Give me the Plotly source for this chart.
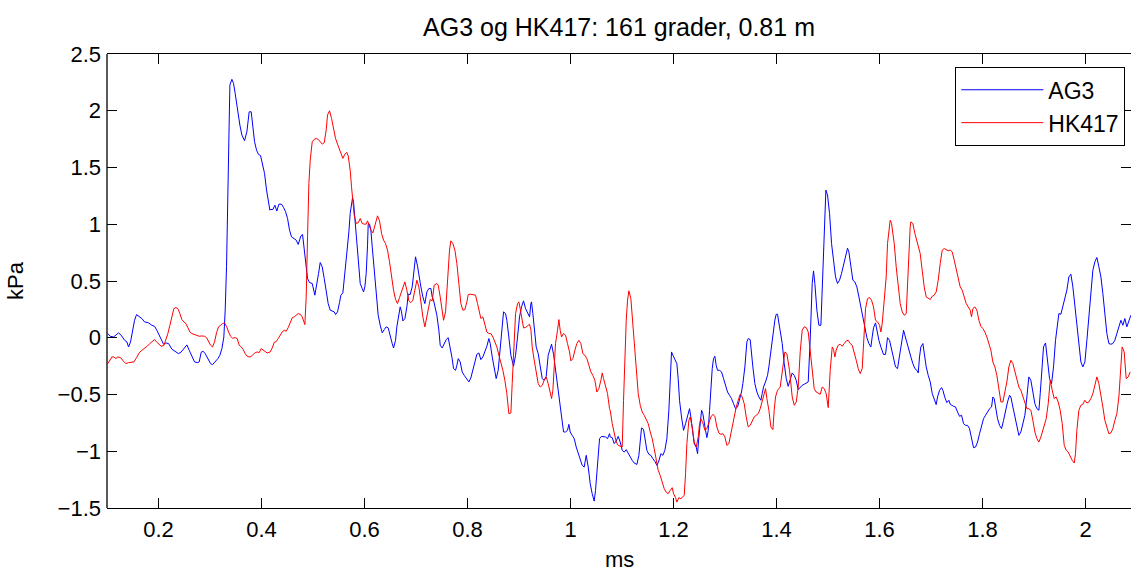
import plotly.graph_objects as go

# ---- data (time in ms, pressure in kPa) ----
ag3_samples = [
    (0.1017,0.037),(0.1062,0.013),(0.1127,0.007),(0.1172,0.022),(0.1224,0.043),(0.1276,0.022),(0.1341,-0.022),(0.1386,-0.037),
    (0.1418,-0.081),(0.1457,-0.037),(0.1496,0.066),(0.1535,0.154),(0.1574,0.204),(0.1612,0.190),(0.1677,0.169),(0.1729,0.140),
    (0.1807,0.131),(0.1871,0.110),(0.1923,0.101),(0.1968,0.066),(0.2033,0.007),(0.2098,-0.057),(0.2143,-0.046),(0.2195,-0.051),
    (0.2260,-0.101),(0.2324,-0.119),(0.2389,-0.140),(0.2441,-0.125),(0.2493,-0.096),(0.2551,-0.063),(0.2596,-0.110),(0.2648,-0.169),
    (0.2700,-0.213),(0.2752,-0.219),(0.2790,-0.213),(0.2829,-0.128),(0.2868,-0.119),(0.2907,-0.140),(0.2959,-0.184),(0.3011,-0.228),
    (0.3049,-0.237),(0.3101,-0.213),(0.3153,-0.184),(0.3192,-0.154),(0.3231,-0.096),(0.3269,0.007),(0.3295,0.243),(0.3321,0.625),
    (0.3347,1.213),(0.3366,1.800),(0.3386,2.227),(0.3425,2.277),(0.3457,2.241),(0.3489,2.153),(0.3541,1.977),(0.3580,1.874),
    (0.3619,1.786),(0.3671,1.736),(0.3716,1.815),(0.3761,1.991),(0.3800,1.991),(0.3826,1.889),(0.3865,1.727),(0.3904,1.653),
    (0.3942,1.615),(0.3981,1.606),(0.4020,1.536),(0.4059,1.448),(0.4098,1.301),(0.4137,1.168),(0.4163,1.124),
    (0.4169,1.130),(0.4221,1.130),(0.4260,1.168),(0.4298,1.116),(0.4337,1.177),(0.4389,1.177),(0.4428,1.148),(0.4467,1.110),
    (0.4506,1.051),(0.4544,0.948),(0.4583,0.889),(0.4635,0.869),(0.4674,0.860),(0.4713,0.822),(0.4739,0.869),(0.4765,0.898),
    (0.4797,0.910),(0.4816,0.830),(0.4842,0.713),(0.4868,0.610),(0.4894,0.522),(0.4933,0.486),(0.4985,0.478),(0.5036,0.375),
    (0.5075,0.463),(0.5108,0.566),(0.5140,0.663),(0.5179,0.625),(0.5218,0.522),(0.5256,0.404),(0.5295,0.301),(0.5334,0.243),
    (0.5373,0.237),(0.5412,0.228),(0.5438,0.204),(0.5476,0.228),(0.5515,0.310),(0.5541,0.375),(0.5580,0.395),(0.5606,0.513),
    (0.5632,0.654),(0.5671,0.786),(0.5697,0.933),(0.5722,1.095),(0.5748,1.154),(0.5768,1.233),(0.5787,1.198),(0.5813,1.066),
    (0.5839,0.904),(0.5865,0.742),(0.5891,0.610),(0.5917,0.478),(0.5955,0.434),(0.5981,0.404),(0.6007,0.448),(0.6033,0.566),
    (0.6059,0.816),(0.6072,1.001),(0.6098,1.001),(0.6124,0.948),(0.6150,0.801),(0.6188,0.595),(0.6227,0.360),(0.6266,0.198),
    (0.6305,0.110),(0.6344,0.043),(0.6383,0.072),(0.6421,0.096),(0.6460,0.087),(0.6499,0.007),(0.6538,-0.051),(0.6564,-0.090),
    (0.6603,-0.022),(0.6628,0.096),(0.6667,0.213),(0.6693,0.272),(0.6719,0.228),(0.6745,0.148),(0.6784,0.169),(0.6823,0.272),
    (0.6849,0.384),(0.6887,0.381),(0.6926,0.448),(0.6965,0.595),(0.6991,0.713),(0.7030,0.631),(0.7056,0.551),(0.7095,0.448),
    (0.7133,0.360),(0.7172,0.301),(0.7211,0.404),(0.7250,0.434),(0.7289,0.434),(0.7315,0.360),(0.7341,0.331),(0.7366,0.287),
    (0.7405,0.198),(0.7444,0.066),
    (0.7470,-0.066),(0.7509,-0.090),(0.7548,-0.051),(0.7587,-0.016),(0.7625,0.001),(0.7664,-0.081),(0.7703,-0.184),(0.7729,-0.272),
    (0.7768,-0.287),(0.7794,-0.243),(0.7820,-0.184),(0.7858,-0.213),(0.7897,-0.301),(0.7936,-0.331),(0.7988,-0.360),(0.8027,-0.389),
    (0.8065,-0.354),(0.8104,-0.287),(0.8143,-0.198),(0.8182,-0.146),(0.8221,-0.134),(0.8260,-0.193),(0.8298,-0.169),(0.8337,-0.125),
    (0.8376,-0.075),(0.8415,-0.007),(0.8441,-0.051),(0.8480,-0.169),(0.8519,-0.281),(0.8557,-0.360),(0.8596,-0.287),(0.8635,-0.110),
    (0.8674,0.096),(0.8700,0.228),(0.8739,0.213),(0.8764,0.154),(0.8803,0.007),(0.8842,-0.154),(0.8894,-0.251),(0.8933,-0.154),
    (0.8972,0.007),(0.9010,0.184),(0.9049,0.272),(0.9088,0.325),(0.9127,0.257),(0.9166,0.213),(0.9205,0.184),(0.9231,0.301),
    (0.9243,0.316),(0.9269,0.213),(0.9308,0.066),(0.9334,-0.081),(0.9373,-0.140),(0.9412,-0.272),(0.9451,-0.360),(0.9489,-0.375),
    (0.9528,-0.340),(0.9567,-0.154),(0.9606,-0.081),(0.9632,-0.057),(0.9671,-0.146),(0.9709,-0.287),(0.9748,-0.434),(0.9787,-0.581),
    (0.9826,-0.728),(0.9865,-0.830),(0.9904,-0.830),(0.9942,-0.816),(0.9968,-0.763),(0.9994,-0.830),(1.0033,-0.860),(1.0072,-0.889),
    (1.0111,-0.963),(1.0150,-1.021),(1.0188,-1.080),(1.0227,-1.124),(1.0266,-1.139),(1.0305,-1.036),(1.0344,-1.139),(1.0383,-1.286),
    (1.0421,-1.374),(1.0460,-1.439),(1.0486,-1.345),(1.0512,-1.198),(1.0538,-0.992),(1.0564,-0.889),(1.0603,-0.869),(1.0642,-0.874),
    (1.0680,-0.874),(1.0719,-0.889),(1.0758,-0.845),
    (1.0771,-0.874),(1.0810,-0.880),(1.0849,-0.933),(1.0888,-0.910),(1.0926,-0.869),(1.0965,-0.919),(1.1004,-0.992),(1.1043,-1.007),
    (1.1082,-0.986),(1.1121,-1.021),(1.1159,-1.057),(1.1198,-1.080),(1.1237,-1.104),(1.1289,-1.116),(1.1328,-1.036),(1.1354,-0.904),
    (1.1379,-0.795),(1.1418,-0.807),(1.1444,-0.889),(1.1483,-0.992),(1.1522,-1.027),(1.1561,-1.036),(1.1599,-1.066),(1.1638,-1.089),
    (1.1677,-1.124),(1.1716,-1.086),(1.1755,-1.021),(1.1794,-1.036),(1.1832,-0.992),(1.1871,-0.889),(1.1910,-0.639),(1.1936,-0.404),
    (1.1962,-0.125),(1.1988,-0.154),(1.2027,-0.198),(1.2065,-0.228),(1.2091,-0.360),(1.2117,-0.551),(1.2156,-0.698),(1.2195,-0.816),
    (1.2234,-0.757),(1.2273,-0.683),(1.2311,-0.625),(1.2337,-0.698),(1.2363,-0.816),(1.2402,-0.933),(1.2441,-0.963),(1.2467,-1.021),
    (1.2493,-0.874),(1.2519,-0.728),(1.2545,-0.639),(1.2570,-0.669),(1.2596,-0.757),(1.2622,-0.816),(1.2648,-0.880),(1.2674,-0.816),
    (1.2700,-0.639),(1.2726,-0.404),(1.2752,-0.272),(1.2777,-0.184),(1.2803,-0.163),(1.2829,-0.243),(1.2855,-0.287),(1.2894,-0.287),
    (1.2933,-0.301),(1.2972,-0.360),(1.3011,-0.434),(1.3049,-0.478),(1.3088,-0.507),(1.3127,-0.536),(1.3166,-0.581),(1.3205,-0.625),
    (1.3244,-0.610),(1.3282,-0.551),(1.3321,-0.478),(1.3347,-0.404),(1.3386,-0.257),(1.3425,-0.037),(1.3451,-0.007),(1.3489,-0.016),
    (1.3515,-0.110),(1.3541,-0.257),(1.3580,-0.404),(1.3619,-0.478),(1.3658,-0.522),(1.3697,-0.551),(1.3722,-0.492),(1.3748,-0.434),
    (1.3787,-0.389),(1.3826,-0.331),(1.3852,-0.257),(1.3891,-0.110),(1.3930,-0.007),(1.3968,0.154),(1.3994,0.207),(1.4020,0.207),
    (1.4059,0.096),
    (1.4072,0.066),(1.4111,-0.051),(1.4150,-0.228),(1.4189,-0.360),(1.4227,-0.428),(1.4266,-0.375),(1.4305,-0.310),(1.4344,-0.331),
    (1.4383,-0.375),(1.4422,-0.457),(1.4460,-0.434),(1.4499,-0.419),(1.4538,-0.410),(1.4577,-0.398),(1.4616,-0.389),(1.4654,-0.022),
    (1.4693,0.478),(1.4719,0.589),(1.4745,0.478),(1.4784,0.243),(1.4823,0.110),(1.4862,0.110),(1.4888,0.419),(1.4913,0.889),
    (1.4939,1.183),(1.4959,1.301),(1.4991,1.257),(1.5030,1.095),(1.5069,0.830),(1.5108,0.654),(1.5146,0.536),(1.5185,0.478),
    (1.5224,0.507),(1.5263,0.566),(1.5302,0.639),(1.5341,0.728),(1.5379,0.789),(1.5405,0.757),(1.5444,0.625),(1.5483,0.507),
    (1.5522,0.492),(1.5561,0.448),(1.5600,0.360),(1.5638,0.272),(1.5677,0.184),(1.5716,0.081),(1.5755,0.001),(1.5794,-0.051),
    (1.5833,-0.081),(1.5858,0.007),(1.5884,0.087),(1.5923,0.131),(1.5949,0.066),(1.5988,-0.022),(1.6027,-0.081),(1.6078,-0.148),
    (1.6117,-0.146),(1.6156,0.001),(1.6195,-0.022),(1.6234,-0.096),(1.6273,-0.198),(1.6311,-0.257),(1.6350,-0.272),(1.6389,-0.169),
    (1.6428,-0.051),(1.6467,0.066),(1.6493,0.022),(1.6532,-0.051),(1.6570,-0.110),(1.6609,-0.169),(1.6648,-0.228),(1.6687,-0.272),
    (1.6726,-0.287),(1.6752,-0.310),(1.6777,-0.169),(1.6803,-0.081),(1.6842,-0.051),(1.6868,-0.140),(1.6907,-0.257),(1.6946,-0.331),
    (1.6985,-0.389),(1.7024,-0.492),(1.7062,-0.551),(1.7101,-0.589),(1.7127,-0.522),(1.7166,-0.463),(1.7205,-0.439),(1.7231,-0.463),
    (1.7270,-0.528),(1.7308,-0.572),(1.7347,-0.551),
    (1.7373,-0.586),(1.7438,-0.604),(1.7477,-0.610),(1.7515,-0.654),(1.7554,-0.692),(1.7593,-0.683),(1.7632,-0.757),(1.7671,-0.772),
    (1.7710,-0.772),(1.7748,-0.801),(1.7787,-0.889),(1.7826,-0.969),(1.7865,-0.963),(1.7904,-0.919),(1.7943,-0.845),(1.7981,-0.772),
    (1.8020,-0.713),(1.8059,-0.683),(1.8098,-0.654),(1.8137,-0.625),(1.8176,-0.610),(1.8201,-0.522),(1.8227,-0.536),(1.8253,-0.610),
    (1.8292,-0.713),(1.8331,-0.772),(1.8370,-0.801),(1.8409,-0.728),(1.8447,-0.639),(1.8486,-0.566),(1.8525,-0.507),(1.8551,-0.522),
    (1.8590,-0.610),(1.8629,-0.698),(1.8667,-0.772),(1.8706,-0.860),(1.8745,-0.830),(1.8784,-0.757),(1.8823,-0.683),(1.8862,-0.522),
    (1.8900,-0.345),(1.8939,-0.375),(1.8978,-0.463),(1.9017,-0.581),(1.9056,-0.625),(1.9095,-0.639),(1.9121,-0.492),(1.9146,-0.287),
    (1.9185,-0.081),(1.9224,-0.046),(1.9263,-0.213),(1.9302,-0.360),(1.9341,-0.404),(1.9379,-0.257),(1.9418,-0.022),(1.9457,0.154),
    (1.9483,0.213),(1.9522,0.207),(1.9561,0.272),(1.9600,0.331),(1.9638,0.419),(1.9677,0.536),(1.9716,0.560),(1.9755,0.448),
    (1.9794,0.272),(1.9833,0.096),(1.9871,-0.066),(1.9910,-0.213),(1.9949,-0.257),(1.9988,-0.213),(2.0027,-0.022),(2.0066,0.213),
    (2.0104,0.419),(2.0143,0.595),(2.0182,0.669),(2.0221,0.707),(2.0260,0.625),(2.0299,0.536),(2.0337,0.389),(2.0376,0.213),
    (2.0415,0.037),(2.0454,-0.051),(2.0493,-0.057),(2.0531,-0.051),(2.0570,-0.022),(2.0609,0.037),(2.0648,0.096),(2.0687,0.154),
    (2.0726,0.110),(2.0764,0.169),(2.0803,0.096),(2.0842,0.154),(2.0881,0.198),
]

hk417_samples = [
    (0.1017,-0.228),(0.1056,-0.198),(0.1095,-0.169),(0.1133,-0.169),(0.1172,-0.184),(0.1211,-0.169),(0.1263,-0.175),(0.1315,-0.204),
    (0.1366,-0.228),(0.1418,-0.219),(0.1470,-0.213),(0.1522,-0.213),(0.1574,-0.175),(0.1625,-0.134),(0.1677,-0.110),(0.1729,-0.096),
    (0.1781,-0.075),(0.1832,-0.051),(0.1884,-0.028),(0.1923,-0.016),(0.1962,-0.037),(0.2001,-0.057),(0.2053,-0.075),(0.2104,-0.069),
    (0.2143,-0.022),(0.2182,0.037),(0.2221,0.110),(0.2260,0.184),(0.2298,0.257),(0.2337,0.266),(0.2376,0.257),(0.2415,0.213),
    (0.2454,0.160),(0.2493,0.140),(0.2531,0.125),(0.2570,0.090),(0.2609,0.051),(0.2648,0.037),(0.2700,0.028),(0.2752,0.016),
    (0.2790,0.013),(0.2842,0.016),(0.2894,0.013),(0.2933,0.001),(0.2972,-0.028),(0.3011,-0.066),(0.3049,-0.081),(0.3088,-0.037),
    (0.3127,0.043),(0.3166,0.096),(0.3205,0.110),(0.3243,0.125),(0.3282,0.131),(0.3321,0.101),(0.3360,0.051),(0.3399,0.013),
    (0.3438,-0.004),(0.3489,0.001),(0.3528,-0.007),(0.3567,-0.066),(0.3606,-0.081),(0.3645,-0.104),(0.3684,-0.140),(0.3722,-0.163),
    (0.3761,-0.169),(0.3800,-0.166),(0.3839,-0.146),(0.3878,-0.131),(0.3917,-0.125),(0.3955,-0.131),(0.3994,-0.096),(0.4033,-0.110),
    (0.4072,-0.125),(0.4111,-0.134),
    (0.4169,-0.125),(0.4208,-0.090),(0.4247,-0.040),(0.4286,-0.034),(0.4324,-0.007),(0.4363,0.022),(0.4402,0.051),(0.4441,0.066),
    (0.4480,0.057),(0.4519,0.090),(0.4557,0.131),(0.4596,0.175),(0.4635,0.184),(0.4674,0.198),(0.4713,0.213),(0.4752,0.207),
    (0.4790,0.184),(0.4842,0.116),(0.4868,0.360),(0.4894,0.889),(0.4920,1.360),(0.4946,1.565),(0.4985,1.727),(0.5023,1.748),
    (0.5062,1.756),(0.5101,1.748),(0.5140,1.727),(0.5179,1.706),(0.5218,1.718),(0.5256,1.830),(0.5282,1.962),(0.5321,2.000),
    (0.5360,1.933),(0.5399,1.830),(0.5438,1.756),(0.5476,1.706),(0.5515,1.653),(0.5554,1.609),(0.5580,1.580),(0.5619,1.618),
    (0.5658,1.633),(0.5684,1.601),(0.5722,1.477),(0.5748,1.330),(0.5774,1.183),(0.5800,1.080),(0.5839,1.007),(0.5878,1.013),
    (0.5917,1.051),(0.5955,1.007),(0.5994,1.001),(0.6033,1.001),(0.6059,1.030),(0.6085,0.992),(0.6124,0.948),(0.6163,0.924),
    (0.6201,0.977),(0.6227,1.030),(0.6253,1.074),(0.6292,1.030),(0.6331,0.919),(0.6370,0.860),(0.6408,0.830),(0.6447,0.772),
    (0.6486,0.669),(0.6525,0.536),(0.6564,0.419),(0.6603,0.337),(0.6641,0.301),(0.6680,0.354),(0.6719,0.404),(0.6758,0.457),
    (0.6784,0.492),(0.6823,0.419),(0.6862,0.325),(0.6900,0.310),(0.6939,0.331),(0.6978,0.419),(0.7017,0.507),(0.7056,0.448),
    (0.7095,0.287),(0.7133,0.184),(0.7172,0.096),(0.7211,0.198),(0.7250,0.287),(0.7276,0.337),(0.7315,0.325),(0.7353,0.463),
    (0.7405,0.478),(0.7431,0.463),
    (0.7470,0.360),(0.7509,0.213),(0.7535,0.154),(0.7574,0.228),(0.7612,0.536),(0.7651,0.772),(0.7677,0.854),(0.7716,0.830),
    (0.7755,0.772),(0.7794,0.654),(0.7832,0.478),(0.7871,0.301),(0.7910,0.243),(0.7949,0.248),(0.7988,0.316),(0.8014,0.381),
    (0.8053,0.384),(0.8117,0.375),(0.8156,0.375),(0.8195,0.301),(0.8234,0.213),(0.8260,0.169),(0.8298,0.184),(0.8337,0.119),
    (0.8376,0.051),(0.8415,0.037),(0.8454,0.037),(0.8493,0.007),(0.8531,-0.037),(0.8570,-0.081),(0.8609,-0.154),(0.8648,-0.213),
    (0.8687,-0.287),(0.8726,-0.375),(0.8764,-0.492),(0.8803,-0.669),(0.8842,-0.663),(0.8868,-0.404),(0.8894,-0.110),(0.8933,0.213),
    (0.8972,0.301),(0.8997,0.316),(0.9023,0.257),(0.9062,0.140),(0.9088,0.087),(0.9127,0.090),(0.9166,0.101),(0.9205,0.119),
    (0.9231,0.072),(0.9256,-0.081),(0.9295,-0.198),(0.9334,-0.301),(0.9373,-0.404),(0.9412,-0.434),(0.9451,-0.419),(0.9489,-0.375),
    (0.9528,-0.345),(0.9567,-0.404),(0.9606,-0.492),(0.9632,-0.536),(0.9658,-0.463),(0.9684,-0.287),(0.9709,-0.051),(0.9748,0.066),
    (0.9774,0.160),(0.9800,0.066),(0.9826,0.007),(0.9865,0.037),(0.9904,0.022),(0.9942,-0.051),(0.9981,-0.125),(1.0007,-0.204),
    (1.0046,-0.184),(1.0085,-0.110),(1.0124,-0.051),(1.0163,-0.022),(1.0201,-0.051),(1.0240,-0.140),(1.0279,-0.154),(1.0318,-0.184),
    (1.0357,-0.243),(1.0396,-0.301),(1.0434,-0.331),(1.0473,-0.375),(1.0512,-0.478),(1.0551,-0.448),(1.0590,-0.375),(1.0616,-0.310),
    (1.0642,-0.360),(1.0680,-0.419),(1.0719,-0.492),(1.0758,-0.625),
    (1.0771,-0.639),(1.0810,-0.757),(1.0849,-0.845),(1.0888,-0.919),(1.0926,-0.948),(1.0965,-0.957),(1.1004,-0.963),(1.1030,-0.551),
    (1.1056,-0.110),(1.1082,0.154),(1.1108,0.331),(1.1133,0.413),(1.1172,0.345),(1.1198,0.184),(1.1237,-0.051),(1.1276,-0.287),
    (1.1315,-0.492),(1.1354,-0.595),(1.1392,-0.654),(1.1431,-0.683),(1.1470,-0.728),(1.1509,-0.757),(1.1548,-0.830),(1.1587,-0.889),
    (1.1625,-0.977),(1.1664,-1.066),(1.1703,-1.168),(1.1742,-1.213),(1.1781,-1.271),(1.1820,-1.330),(1.1858,-1.360),(1.1897,-1.374),
    (1.1936,-1.345),(1.1975,-1.321),(1.2001,-1.374),(1.2040,-1.409),(1.2065,-1.448),(1.2104,-1.409),(1.2143,-1.418),(1.2182,-1.398),
    (1.2208,-1.389),(1.2234,-1.198),(1.2260,-0.933),(1.2298,-0.728),(1.2324,-0.698),(1.2363,-0.786),(1.2402,-0.919),(1.2441,-0.963),
    (1.2480,-0.874),(1.2506,-0.757),(1.2531,-0.713),(1.2570,-0.751),(1.2609,-0.816),(1.2648,-0.801),(1.2687,-0.742),(1.2726,-0.698),
    (1.2765,-0.675),(1.2803,-0.692),(1.2842,-0.786),(1.2881,-0.839),(1.2920,-0.851),(1.2959,-0.845),(1.2998,-0.874),(1.3036,-0.948),
    (1.3075,-0.933),(1.3114,-0.845),(1.3140,-0.757),(1.3179,-0.683),(1.3218,-0.610),(1.3256,-0.551),(1.3295,-0.498),(1.3334,-0.522),
    (1.3373,-0.581),(1.3412,-0.698),(1.3451,-0.786),(1.3489,-0.772),(1.3528,-0.728),(1.3567,-0.698),(1.3606,-0.683),(1.3645,-0.669),
    (1.3684,-0.625),(1.3722,-0.566),(1.3761,-0.492),(1.3787,-0.448),(1.3813,-0.536),(1.3852,-0.639),(1.3891,-0.786),(1.3930,-0.810),
    (1.3955,-0.639),(1.3981,-0.522),(1.4020,-0.463),(1.4059,-0.439),
    (1.4072,-0.434),(1.4124,-0.257),(1.4163,-0.125),(1.4201,-0.140),(1.4253,-0.287),(1.4305,-0.522),(1.4344,-0.595),(1.4383,-0.566),
    (1.4422,-0.434),(1.4460,-0.125),(1.4499,0.066),(1.4538,0.096),(1.4577,0.090),(1.4616,0.051),(1.4654,-0.110),(1.4693,-0.316),
    (1.4732,-0.448),(1.4771,-0.478),(1.4810,-0.492),(1.4849,-0.498),(1.4888,-0.434),(1.4926,-0.448),(1.4965,-0.492),(1.5004,-0.616),
    (1.5043,-0.287),(1.5082,-0.081),(1.5108,-0.104),(1.5134,-0.169),(1.5159,-0.110),(1.5198,-0.066),(1.5237,-0.057),(1.5276,-0.075),
    (1.5315,-0.051),(1.5354,-0.028),(1.5392,-0.022),(1.5431,-0.051),(1.5470,-0.066),(1.5509,-0.125),(1.5548,-0.198),(1.5587,-0.272),
    (1.5625,-0.316),(1.5664,-0.272),(1.5690,-0.022),(1.5729,0.257),(1.5768,0.345),(1.5807,0.354),(1.5845,0.331),(1.5884,0.272),
    (1.5923,0.154),(1.5962,0.140),(1.6001,0.110),(1.6027,0.051),(1.6053,0.125),(1.6091,0.301),(1.6130,0.536),(1.6156,0.830),
    (1.6182,0.948),(1.6208,1.036),(1.6234,1.007),(1.6260,0.933),(1.6286,0.830),(1.6324,0.625),(1.6363,0.448),(1.6402,0.301),
    (1.6441,0.228),(1.6480,0.198),(1.6519,0.213),(1.6544,0.478),(1.6570,0.772),(1.6596,0.977),(1.6609,1.021),(1.6648,1.007),
    (1.6687,0.919),(1.6726,0.860),(1.6765,0.801),(1.6790,0.742),(1.6829,0.595),(1.6868,0.448),(1.6907,0.360),(1.6946,0.345),
    (1.6985,0.337),(1.7024,0.366),(1.7062,0.375),(1.7101,0.404),(1.7140,0.507),(1.7179,0.654),(1.7218,0.772),(1.7256,0.786),
    (1.7295,0.777),(1.7334,0.766),(1.7373,0.772),
    (1.7412,0.757),(1.7451,0.683),(1.7490,0.595),(1.7528,0.507),(1.7567,0.448),(1.7606,0.419),(1.7645,0.360),(1.7684,0.301),
    (1.7723,0.272),(1.7761,0.243),(1.7787,0.184),(1.7813,0.257),(1.7852,0.272),(1.7891,0.243),(1.7930,0.154),(1.7969,0.101),
    (1.8007,0.081),(1.8046,0.051),(1.8085,0.007),(1.8124,-0.051),(1.8163,-0.110),(1.8201,-0.213),(1.8240,-0.257),(1.8279,-0.331),
    (1.8318,-0.463),(1.8357,-0.566),(1.8396,-0.566),(1.8434,-0.492),(1.8473,-0.389),(1.8512,-0.257),(1.8551,-0.198),(1.8590,-0.228),
    (1.8629,-0.301),(1.8667,-0.375),(1.8706,-0.434),(1.8745,-0.463),(1.8784,-0.522),(1.8823,-0.581),(1.8862,-0.625),(1.8900,-0.625),
    (1.8939,-0.639),(1.8978,-0.728),(1.9017,-0.830),(1.9056,-0.889),(1.9095,-0.919),(1.9134,-0.874),(1.9172,-0.816),(1.9211,-0.757),
    (1.9237,-0.713),(1.9276,-0.581),(1.9315,-0.375),(1.9354,-0.463),(1.9392,-0.536),(1.9431,-0.522),(1.9470,-0.566),(1.9509,-0.639),
    (1.9548,-0.757),(1.9587,-0.948),(1.9625,-0.992),(1.9664,-1.007),(1.9703,-1.051),(1.9742,-1.080),(1.9781,-1.104),(1.9806,-1.021),
    (1.9832,-0.816),(1.9871,-0.639),(1.9910,-0.595),(1.9949,-0.586),(1.9988,-0.551),(2.0027,-0.575),(2.0066,-0.566),(2.0104,-0.536),
    (2.0143,-0.492),(2.0182,-0.419),(2.0221,-0.345),(2.0260,-0.404),(2.0299,-0.492),(2.0337,-0.610),(2.0376,-0.728),(2.0415,-0.786),
    (2.0454,-0.845),(2.0493,-0.839),(2.0531,-0.801),(2.0570,-0.728),(2.0609,-0.669),(2.0648,-0.522),(2.0687,-0.228),(2.0712,-0.081),
    (2.0751,-0.125),(2.0790,-0.360),(2.0829,-0.345),(2.0868,-0.301),
]

series_names = ["AG3", "HK417"]
series_colors = ["#0000FF", "#FF0000"]

x_tickvals = [0.2, 0.4, 0.6, 0.8, 1.0, 1.2, 1.4, 1.6, 1.8, 2.0]
x_ticktext = ["0.2", "0.4", "0.6", "0.8", "1", "1.2", "1.4", "1.6", "1.8", "2"]
y_tickvals = [2.5, 2.0, 1.5, 1.0, 0.5, 0.0, -0.5, -1.0, -1.5]
y_ticktext = ["2.5", "2", "1.5", "1", "0.5", "0", "\u22120.5", "\u22121", "\u22121.5"]

title_text = "AG3 og HK417: 161 grader, 0.81 m"
x_title = "ms"
y_title = "kPa"

FONT = "Liberation Sans, Arial, Helvetica, sans-serif"

fig = go.Figure()
for name, color, samples in zip(series_names, series_colors, [ag3_samples, hk417_samples]):
    t = [s[0] for s in samples]
    p = [s[1] for s in samples]
    fig.add_trace(go.Scatter(x=t, y=p, mode="lines", name=name,
                             line=dict(color=color, width=1.0)))

W, H = 1131, 573
ML, MR, MT, MB = 107, 0, 54, 65
PH = H - MT - MB

fig.update_layout(
    width=W, height=H,
    margin=dict(l=ML, r=MR, t=MT, b=MB, pad=0),
    paper_bgcolor="white", plot_bgcolor="white",
    font=dict(family=FONT, size=21, color="black"),
    title=dict(text=title_text, x=0.5, xref="paper", xanchor="center",
               y=1 - 27 / H, yref="container", yanchor="middle",
               font=dict(family=FONT, size=25, color="black")),
    showlegend=True,
    legend=dict(x=(1125 - ML) / (W - ML - MR), xanchor="right", y=1 - 13 / PH, yanchor="top",
                bgcolor="white", bordercolor="black", borderwidth=1.3,
                font=dict(family=FONT, size=23, color="black"),
                itemwidth=82, tracegroupgap=0),
    xaxis=dict(range=[0.1, 0.1 + (W - ML - MR) / 515.0], tickvals=x_tickvals, ticktext=x_ticktext,
               ticks="inside", ticklen=10, tickwidth=1, tickcolor="black",
               showline=True, linecolor="black", linewidth=1.3, mirror="allticks",
               showgrid=False, zeroline=False, ticklabelstandoff=1,
               tickfont=dict(family=FONT, size=22, color="black")),
    yaxis=dict(range=[-1.5, 2.5], tickvals=y_tickvals, ticktext=y_ticktext,
               ticks="inside", ticklen=10, tickwidth=1, tickcolor="black",
               showline=False, mirror="allticks",
               showgrid=False, zeroline=False, ticklabelstandoff=5,
               tickfont=dict(family=FONT, size=22, color="black")),
    shapes=[dict(type="line", xref="paper", yref="paper", x0=0, x1=0, y0=0, y1=1,
                 line=dict(color="black", width=1.3))],
    annotations=[
        dict(text=x_title, xref="paper", yref="paper", x=0.5, y=-(559 - (H - MB)) / PH,
             xanchor="center", yanchor="middle", showarrow=False,
             font=dict(family=FONT, size=22, color="black")),
        dict(text=y_title, xref="paper", yref="paper", x=(15 - ML) / (W - ML - MR), y=0.5,
             xanchor="center", yanchor="middle", textangle=-90, showarrow=False,
             font=dict(family=FONT, size=22, color="black")),
    ],
)

fig.write_html("out.html", config={"displayModeBar": False},
               post_script="document.body.style.margin='0px';")
